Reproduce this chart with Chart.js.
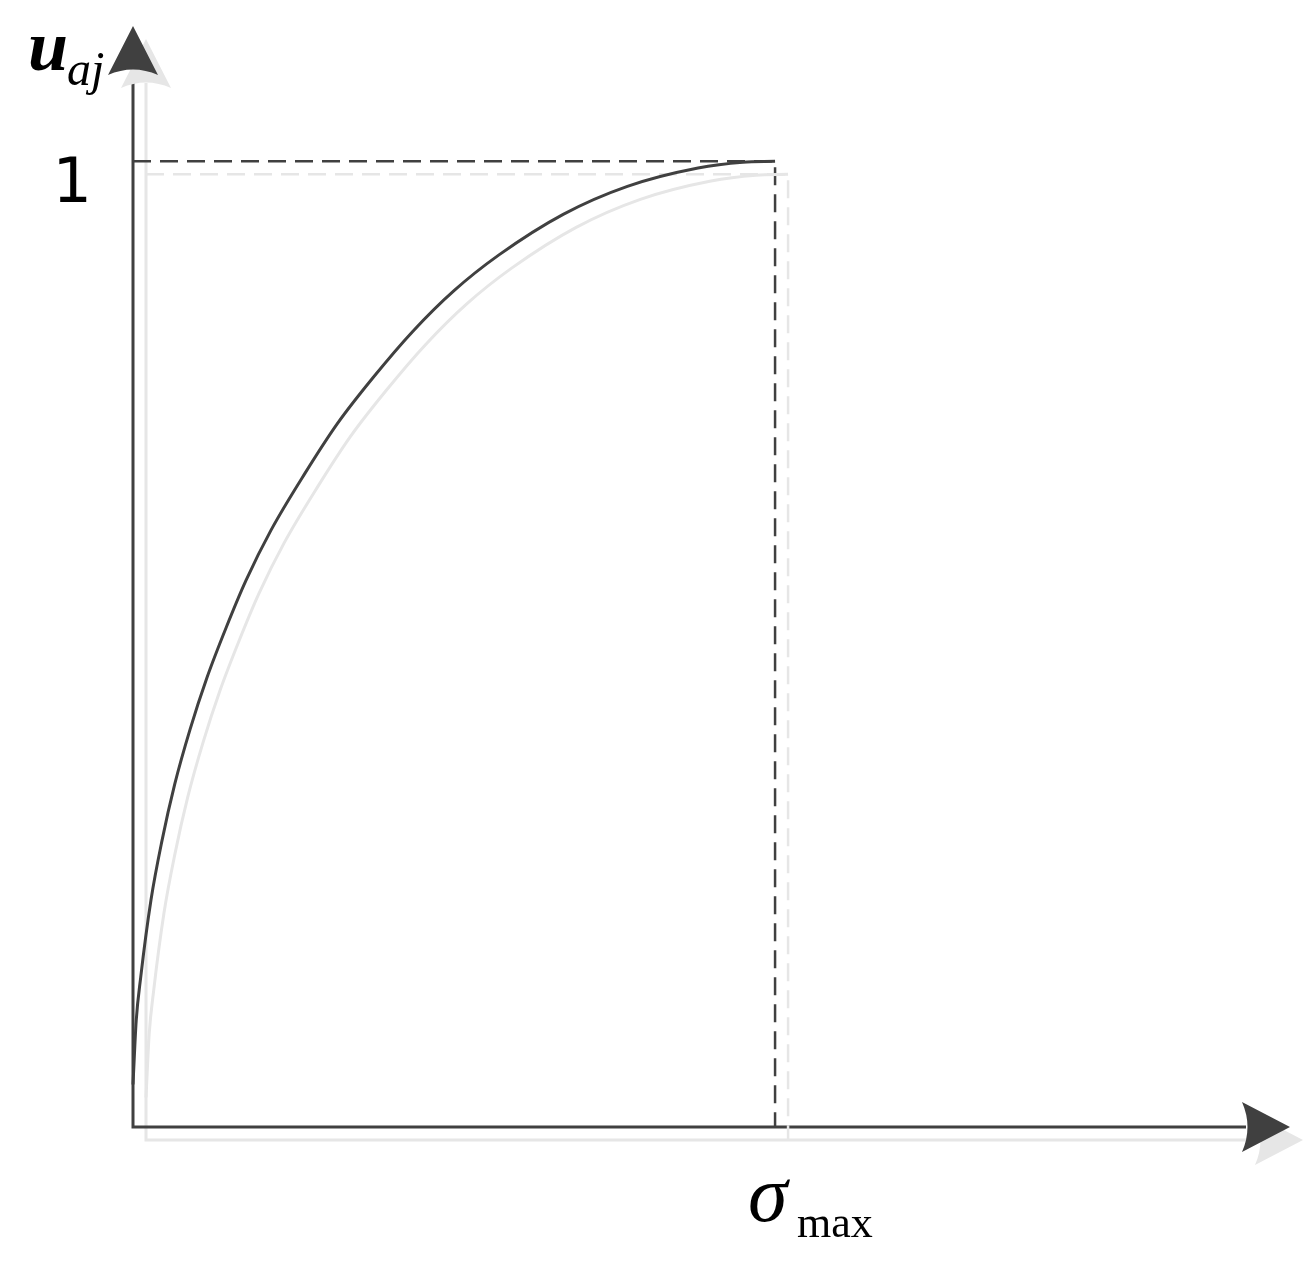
<!DOCTYPE html>
<html>
<head>
<meta charset="utf-8">
<script src="https://cdn.jsdelivr.net/npm/chart.js@4/dist/chart.umd.min.js"></script>
<style>
  body { margin: 0; background: #fff; }
  #wrap { width: 1306px; height: 1268px; }
</style>
</head>
<body>
<div id="wrap"><canvas id="membership" width="1306" height="1268"></canvas></div>
<script>
// curve u_aj vs sigma, sigma normalised to sigma_max = 1
const sigmaValues = [0, 0.005, 0.012, 0.028, 0.045, 0.065, 0.089, 0.115, 0.145, 0.176, 0.215, 0.268, 0.318, 0.374, 0.436, 0.50, 0.57, 0.67, 0.77, 0.88, 0.95, 1];
const uValues     = [0.044, 0.11, 0.155, 0.235, 0.296, 0.355, 0.412, 0.465, 0.517, 0.566, 0.618, 0.677, 0.728, 0.776, 0.824, 0.866, 0.903, 0.945, 0.974, 0.993, 0.999, 1];
const sigmaMax = 1;
const uMax = 1;
const yTickLabel = '1';

const dark = '#404040';
const shadow = '#e6e6e6';

const curvePoints = sigmaValues.map((s, i) => ({ x: s, y: uValues[i] }));
const guidePoints = [{ x: 0, y: uMax }, { x: sigmaMax, y: uMax }, { x: sigmaMax, y: 0 }];

function setShadow(ctx) {
  ctx.shadowColor = shadow;
  ctx.shadowOffsetX = 13;
  ctx.shadowOffsetY = 13;
  ctx.shadowBlur = 0;
}

const axesPlugin = {
  id: 'axes',
  beforeDatasetsDraw(chart) {
    const ctx = chart.ctx;
    const xs = chart.scales.x, ys = chart.scales.y;
    const x0 = xs.getPixelForValue(0), y0 = ys.getPixelForValue(0);
    const xEnd = chart.chartArea.right, yEnd = chart.chartArea.top;
    ctx.save();
    setShadow(ctx);
    ctx.strokeStyle = dark;
    ctx.fillStyle = dark;
    ctx.lineWidth = 3;
    // axis lines
    ctx.beginPath();
    ctx.moveTo(x0, yEnd + 44);
    ctx.lineTo(x0, y0);
    ctx.lineTo(xEnd - 44, y0);
    ctx.stroke();
    // y arrow head
    ctx.beginPath();
    ctx.moveTo(x0, yEnd);
    ctx.lineTo(x0 + 25, yEnd + 49);
    ctx.quadraticCurveTo(x0, yEnd + 38, x0 - 25, yEnd + 49);
    ctx.closePath();
    ctx.fill();
    // x arrow head
    ctx.beginPath();
    ctx.moveTo(xEnd, y0);
    ctx.lineTo(xEnd - 48, y0 + 25);
    ctx.quadraticCurveTo(xEnd - 37, y0, xEnd - 48, y0 - 25);
    ctx.closePath();
    ctx.fill();
    ctx.restore();
    // shadow stays on for the datasets
    ctx.save();
    setShadow(ctx);
  },
  afterDatasetsDraw(chart) {
    chart.ctx.restore();
  },
  afterDraw(chart) {
    const ctx = chart.ctx;
    const xs = chart.scales.x, ys = chart.scales.y;
    ctx.save();
    ctx.fillStyle = '#000';
    ctx.textBaseline = 'alphabetic';
    // y label u_aj
    ctx.font = 'italic bold 72px "Liberation Serif"';
    ctx.fillText('u', 28, 70);
    ctx.font = 'italic 48px "Liberation Serif"';
    ctx.fillText('aj', 67, 85);
    // tick 1
    ctx.font = '62px "DejaVu Sans"';
    ctx.textAlign = 'right';
    ctx.fillText(yTickLabel, 92, ys.getPixelForValue(uMax) + 41);
    // x label sigma_max
    const sx = xs.getPixelForValue(sigmaMax);
    ctx.textAlign = 'left';
    ctx.font = 'italic 80px "Liberation Serif"';
    ctx.fillText('σ', sx - 27, 1221);
    ctx.font = '44px "Liberation Serif"';
    ctx.fillText('max', sx + 22, 1237);
    ctx.restore();
  }
};

new Chart(document.getElementById('membership'), {
  type: 'scatter',
  data: {
    datasets: [
      {
        data: curvePoints,
        showLine: true,
        borderColor: dark,
        borderWidth: 3,
        pointRadius: 0,
        cubicInterpolationMode: 'monotone',
        clip: false
      },
      {
        data: guidePoints,
        showLine: true,
        borderColor: dark,
        borderWidth: 2.5,
        borderDash: [18, 9],
        pointRadius: 0,
        clip: false
      }
    ]
  },
  options: {
    responsive: false,
    animation: false,
    layout: { padding: { left: 133, right: 16, top: 26, bottom: 141 } },
    plugins: {
      legend: { display: false },
      tooltip: { enabled: false }
    },
    scales: {
      x: { type: 'linear', display: false, min: 0, max: 1.802 },
      y: { type: 'linear', display: false, min: 0, max: 1.14 }
    }
  },
  plugins: [axesPlugin]
});
</script>
</body>
</html>
